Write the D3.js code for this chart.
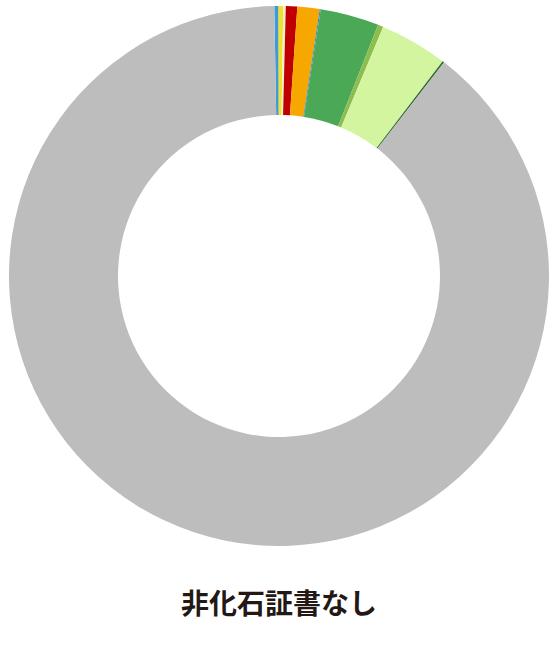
<!DOCTYPE html>
<html>
<head>
<meta charset="utf-8">
<script src="https://cdn.jsdelivr.net/npm/d3@7"></script>
<style>
  html, body { margin: 0; padding: 0; background: #fff; }
</style>
</head>
<body>
<svg id="chart" width="556" height="658"></svg>
<script>
// slice shares in percent, clockwise from the top
const categories = ["a", "b", "c", "d", "e", "f", "g", "h", "i", "j", "なし"];
const values = [0.25, 0.28, 0.15, 0.68, 1.33, 0.06, 3.51, 0.32, 4.06, 0.11, 89.25];
const colors = ["#3d9bd6", "#f2e12a", "#f3efc8", "#c00000", "#f7a800", "#3d7fc2",
                "#4aa856", "#8dbd4f", "#d3f5a0", "#2e6b2f", "#bdbdbd"];
const title = "非化石証書なし";

const svg = d3.select("#chart");
const cx = 279, cy = 276;
const outerR = 270, innerR = 161;

const pie = d3.pie()
    .value(d => d)
    .sort(null)
    .startAngle(-1.0 * Math.PI / 180)
    .endAngle(2 * Math.PI - 1.0 * Math.PI / 180);

const arc = d3.arc()
    .innerRadius(innerR)
    .outerRadius(outerR);

const g = svg.append("g")
    .attr("transform", `translate(${cx},${cy})`);

g.selectAll("path")
    .data(pie(values))
    .enter()
    .append("path")
    .attr("d", arc)
    .attr("fill", (d, i) => colors[i]);

// caption under the ring
svg.append("text")
    .attr("x", cx)
    .attr("y", 602)
    .attr("text-anchor", "middle")
    .attr("dominant-baseline", "central")
    .style("font-family", "'Noto Sans CJK JP', sans-serif")
    .style("font-weight", "bold")
    .style("font-size", "28px")
    .style("fill", "#231815")
    .text(title);
</script>
</body>
</html>
